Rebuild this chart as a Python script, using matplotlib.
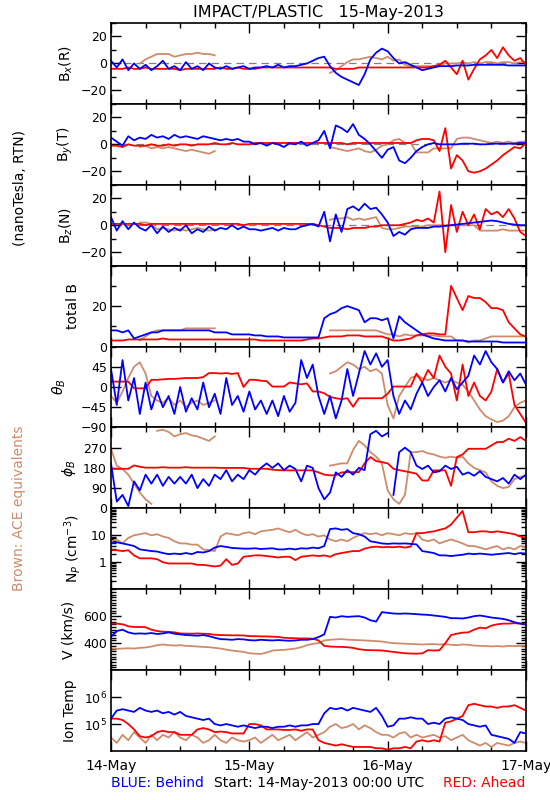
import numpy as np
import matplotlib.pyplot as plt
from matplotlib.ticker import MultipleLocator, LogLocator, NullFormatter

nan = np.nan

# hourly samples, 14-May-2013 00:00 UTC (0) to 17-May 00:00 UTC (72)
hours = np.arange(73)
day_ticks = [0, 24, 48, 72]
day_labels = ['14-May', '15-May', '16-May', '17-May']

# ---- B_x (R), nT
bx_blue = [2, -3, 3, -5, 0, -4, -1, -5, -2, 2, -4, -2,
           -5, 1, -4, -2, -5, 0, -3, -4, -2, -4, -3, -2,
           -4, -3, -3, -2, -3, -1, -3, -2, -2, -1, 0, 2,
           4, 5, -2, -7, -10, -12, -14, -16, -8, 3, 8, 11,
           9, 4, 0, 1, -1, -3, -5, -4, -3, -2, -2, -2,
           -1.5, -1.5, -1.5, -1, -1, -1, -1, -1, -1, -1.5, -1.5, -1.5,
           -1.5]
bx_red = [-4, -4, -4, -3, -4, -4, -3, -4, -4, -4, -4, -4,
          -5, -4, -4, -4, -4, -4, -4, -3, -4, -4, -3, -4,
          -4, -4, -3, -3, -3, -3, -3, -3, -3, -3, -3, -3,
          -3, -3, -3, -4, -4, -4, -4, -3, -3, -3, -3, -3,
          -3, -3, -3, -3, -3, -3, -3, -3, -2, -1, 2, -3,
          -8, 2, -12, -4, 3, 6, 10, 4, 12, 6, 2, 4,
          -1]
bx_ace = [nan, nan, nan, nan, nan, 0, 3, 5, 7, 7, 7, 5,
          6, 7, 7, 8, 7, 7, 6, nan, nan, nan, nan, nan,
          nan, nan, nan, nan, nan, nan, nan, nan, nan, nan, nan, nan,
          nan, nan, -7, -5, -2, 1, 3, 3, 4, 5, 4, 3,
          5, 2, 3, -1, -2, -2, -2, -2, -2, -1, 0, 0,
          0, 1, 0, 1, 0, 1, 1, 0, 1, 1, 0, 1,
          1]

# ---- B_y (T), nT
by_blue = [5, 2, -1, 6, 3, 5, 4, 7, 5, 6, 4, 7,
           5, 6, 5, 4, 6, 5, 4, 3, 4, 3, 4, 2,
           2, 0, 1, -1, 1, 0, -2, 1, 0, 2, -1, 1,
           3, 10, -3, 14, 12, 9, 15, 7, 4, 0, -5, -10,
           -4, -2, -12, -14, -10, -5, -2, 0, 1, 0, 0, 0,
           0, 0.5, 0.5, 0.5, 0, 0, 0.5, 0.5, 0.5, 0.5, 0.5, 1,
           1]
by_red = [-1, -1, -2, 0, -1, -1, -1, 0, -1, -1, 0, -1,
          0, 0, -1, 0, 0, 0, 1, 0, 0, 1, 0, 0,
          0, 1, 1, 1, 1, 1, 1, 1, 1, 1, 1, 1,
          1, 1, 1, 1, 1, 0, 1, 1, 1, 1, 1, 1,
          1, 1, 1, 1, 1, 3, 4, 4, 3, -5, 12, -18,
          -8, -12, -20, -21, -20, -18, -15, -12, -8, -5, -2, -3,
          1]
by_ace = [nan, nan, nan, nan, nan, -2, -1, -3, -2, -3, -2, -3,
          -4, -5, -4, -5, -6, -7, -5, nan, nan, nan, nan, nan,
          nan, nan, nan, nan, nan, nan, nan, nan, nan, nan, nan, nan,
          nan, nan, -2, -3, -4, -5, -4, -3, -5, -6, -4, -1,
          0, 3, 4, 1, 1, -6, -6, -6, -3, -3, -3, -3,
          4, 5, 5, 4, 3, 2, 1, 2, 1, 2, 1, 2,
          2]

# ---- B_z (N), nT
bz_blue = [6, -4, 3, -3, 2, -2, -4, 0, -6, -1, -5, -2,
           -4, 0, -6, -3, -5, -1, -4, -2, -3, 0, -3, -1,
           -3, -3, -4, -3, -2, -4, -2, -3, -3, -1, 0, 1,
           -1, 10, -12, 8, -5, 12, 14, 11, 16, 12, 13, 8,
           2, -8, -5, -7, -3, -2, -2, -2, -1, -1, -0.5, 0,
           0.5, 1, 1.5, 2, 2.5, 3, 3.5, 3, 2, 1, 0.5, 0,
           0]
bz_red = [1, 1, 1, 1, 1, 1, 0, 1, 1, 1, 1, 1,
          1, 1, 1, 1, 1, 1, 1, 1, 1, 1, 1, 0,
          1, 1, 1, 1, 1, 1, 1, 1, 1, 1, 1, 1,
          0, -1, -2, -2, -2, -3, -2, -2, -2, -1, -1, 0,
          0, 0, 0, 1, 2, 4, 3, 5, 2, 25, -20, 15,
          -5, 10, 0, 8, -3, 12, 8, 10, 6, 12, 5, -5,
          -8]
bz_ace = [nan, nan, nan, nan, nan, 2, 2, 1, -3, -2, -3, -4,
          -3, -4, -3, -2, -3, -4, -3, nan, nan, nan, nan, nan,
          nan, nan, nan, nan, nan, nan, nan, nan, nan, nan, nan, nan,
          nan, nan, 4, 5, 5, 6, 4, 5, 4, 5, 6, -2,
          -3, -3, -2, -1, -1, -1, -1, 0, 0, 0, 0, 0,
          0, 0, 0, 0, -4, -4, -4, -4, -3, -4, -4, -4,
          -4]

# ---- total B, nT
bt_blue = [8, 8, 7, 8, 4, 5, 6, 7, 7, 8, 8, 8,
           8, 8, 8, 8, 8, 8, 7, 7, 7, 6, 6, 6,
           6, 5.5, 5.5, 5, 5, 5, 4.5, 4.5, 4.5, 4.5, 4.5, 4.5,
           4.5, 14, 16, 17, 19, 20, 19, 18, 12, 14, 14, 13,
           14, 4, 15, 12, 10, 8, 6, 5, 4, 3.5, 3, 3,
           3, 3, 2.5, 2.5, 2.5, 2.5, 2.5, 2.5, 2, 2, 2, 2,
           2]
bt_red = [3, 3, 3, 3.5, 3.5, 3.5, 3.5, 3.5, 3.5, 4, 3.5, 3.5,
          3.5, 3.5, 3.5, 3.5, 3.5, 3.5, 3.5, 3.5, 3.5, 3.5, 3.5, 3.5,
          3.5, 3.5, 3, 3, 3, 3, 3, 3, 3, 3, 3.5, 4,
          4, 4.5, 5, 5, 5, 5.5, 5.5, 5.5, 5, 5, 5, 5,
          4, 3, 3, 3.5, 4, 5.5, 6, 6.5, 6.5, 6, 6, 30,
          24, 18, 25, 24, 24, 22, 19, 19, 18, 12, 9, 6,
          5]
bt_ace = [nan, nan, nan, nan, nan, 3, 5, 7, 8, 8, 8, 8,
          8, 9, 9, 9, 9, 9, 9, nan, nan, nan, nan, nan,
          nan, nan, nan, nan, nan, nan, nan, nan, nan, nan, nan, nan,
          nan, nan, 8, 8, 8, 8, 8, 8, 8, 8, 8, 7,
          6, 6, 5, 6, 5.5, 5.5, 5.5, 5.5, 5.5, 5, 5, 5,
          3, 3, 2, 3, 3, 4, 5, 5, 5, 5, 5, 5,
          5]

# ---- theta_B, deg
th_blue = [40, -40, 60, -30, 20, -60, 10, -50, -10, -45, -20, -60,
           0, -55, -25, -50, 10, -45, -15, -60, 20, -40, -20, -55,
           -10, -50, -30, -60, -30, -65, -20, -55, -35, 60, 20, 50,
           -20, -60, -20, -70, -30, 40, -20, 30, 80, 50, 75, 45,
           60, -20, -60, -30, -50, -15, 10, -20, 0, 15, -10, 20,
           -5, 10, 25, 70, 50, 80, 55, 40, 10, 35, 15, 30,
           5]
th_red = [12, 12, 12, 12, -3, -3, -3, 16, 16, 17, 18, 18,
          19, 20, 20, 20, 22, 31, 31, 30, 31, 29, 31, 0,
          16, 16, 14, 13, 1, 1, 1, 10, 8, 6, 8, -10,
          -10, -14, -22, -25, -27, -25, -44, -25, -25, -25, -25, -25,
          -15, 1, 1, 1, 1, 30, 10, 38, 20, 70, 45, 30,
          -30, 50, -20, 10, -20, -30, -10, 40, 10, 30, -40, -60,
          -80]
th_ace = [-20, -35, -10, 20, 45, 55, 30, -20, -30, -35, -25, -40,
          -30, -45, -35, -30, -40, -35, -30, nan, nan, nan, nan, nan,
          nan, nan, nan, nan, nan, nan, nan, nan, nan, nan, nan, nan,
          nan, nan, 30, 35, 45, 55, 50, 40, 45, 35, 40, 30,
          -40, -70, -20, 0, 20, 25, 20, 15, 20, 15, 10, 15,
          10, 5, -10, -30, -50, -65, -72, -78, -75, -65, -45, -35,
          -30]

# ---- phi_B, deg
ph_blue = [200, 30, 60, 10, 120, 80, 150, 110, 150, 100, 140, 110,
           140, 110, 150, 90, 130, 100, 150, 130, 170, 120, 150, 130,
           170, 150, 180, 200, 180, 200, 170, 190, 175, 120, 190, 180,
           90, 40, 70, 160, 140, 170, 150, 180, 170, 330, 345, 320,
           335, 60, 250, 270, 250, 190, 175, 190, 160, 165, 190, 175,
           185, 150, 160, 145, 165, 140, 130, 120, 135, 110, 150, 130,
           150]
ph_red = [176, 176, 176, 176, 191, 185, 181, 181, 181, 183, 181, 181,
          181, 183, 181, 181, 181, 181, 181, 180, 180, 180, 180, 180,
          176, 176, 176, 176, 172, 170, 169, 169, 169, 169, 169, 169,
          160, 150, 147, 147, 160, 161, 161, 161, 200, 228, 210, 206,
          200, 176, 170, 165, 160, 154, 124, 124, 169, 169, 169, 100,
          228, 240, 265, 265, 265, 265, 280, 295, 295, 310, 300, 317,
          300]
ph_ace = [265, 190, 175, 150, 110, 70, 40, 20, 345, 350, 340, 320,
          330, 335, 325, 320, 310, 300, 320, nan, nan, nan, nan, nan,
          nan, nan, nan, nan, nan, nan, nan, nan, nan, nan, nan, nan,
          nan, nan, 190, 195, 200, 200, 260, 300, 280, 250, 230, 200,
          80, 40, 20, 60, 250, 250, 255, 245, 240, 230, 225, 230,
          225, 230, 200, 180, 170, 160, 120, 100, 90, 95, 130, 140,
          145]

# ---- N_p, cm^-3
np_blue = [5, 5.5, 5, 4.5, 4, 3, 2.8, 2.6, 2.5, 2.2, 2, 2.1,
           2, 2.2, 2, 2.4, 2.3, 2.6, 3.5, 4, 3.7, 3.4, 3.3, 3.2,
           3.2, 3.3, 3.1, 3.2, 3.3, 3, 3, 3.2, 3, 3.3, 3.2, 3.5,
           3.3, 4, 17, 18, 16, 17, 12, 11, 9, 6, 5.5, 5,
           4.8, 5, 4.9, 5, 4.8, 4.6, 2.6, 2.4, 2.2, 1.8, 1.8, 1.7,
           1.8, 1.9, 2.1, 2, 2.1, 2, 1.9, 2, 2.1, 2.2, 2, 2.2,
           2.1]
np_red = [2.8, 2.8, 2.6, 2.8, 1.8, 1.4, 1.4, 1.4, 1.3, 1, 0.9, 0.9,
          0.9, 0.9, 0.9, 0.8, 0.8, 0.75, 0.7, 0.75, 1.3, 0.8, 0.9, 1.6,
          1.7, 1.8, 1.8, 1.7, 1.6, 1.5, 1.6, 1.6, 1.2, 1.6, 1.7, 1.8,
          1.7, 1.8, 1.6, 2, 2.2, 2.4, 2.6, 2.6, 3.2, 3.6, 3.8, 3.6,
          3.7, 3.6, 3.8, 3.5, 3.8, 12, 12, 13, 14, 16, 18, 25,
          45, 80, 13, 13, 14, 14, 13, 14, 13, 12, 11, 9,
          8]
np_ace = [6, 7, 5, 8, 10, 11, 12, 10, 11, 9, 8, 6,
          5, 5, 4.5, 4.5, 3, 2.8, 2.6, 9, 12, 11, 10, 12,
          13, 11, 14, 15, 16, 18, 15, 13, 16, 12, 10, 11,
          9, 10, 7, 6, 7, 6, 8, 10, 12, 11, 12, 10,
          12, 11, 10, 12, 11, 12, 7, 6, 7, 5, 6, 7,
          6, 5, 4, 4, 3.5, 3, 3.5, 4, 3, 3.5, 3, 4,
          3.5]

# ---- bulk speed, km/s
v_blue = [447, 490, 500, 480, 470, 472, 470, 475, 468, 472, 480, 470,
          465, 460, 458, 455, 460, 452, 440, 430, 428, 425, 430, 428,
          422, 420, 425, 422, 420, 423, 420, 418, 420, 425, 425, 430,
          445, 465, 595, 590, 600, 595, 598, 600, 590, 570, 560, 630,
          625, 620, 618, 620, 618, 615, 612, 610, 605, 600, 595, 585,
          585, 583, 590, 600, 605, 598, 590, 585, 580, 570, 555, 545,
          540]
v_red = [545, 545, 540, 525, 520, 520, 518, 500, 490, 485, 484, 480,
         472, 471, 470, 472, 470, 468, 462, 460, 459, 458, 458, 457,
         452, 452, 450, 450, 448, 446, 440, 438, 436, 435, 435, 433,
         420, 380, 375, 373, 372, 370, 365, 355, 350, 348, 347, 346,
         340, 335, 330, 325, 323, 322, 324, 348, 345, 348, 400, 460,
         470, 478, 480, 500, 515, 510, 530, 540, 545, 545, 548, 545,
         540]
v_ace = [360, 358, 360, 362, 360, 365, 368, 375, 385, 390, 385, 382,
         385, 380, 378, 375, 372, 370, 365, 360, 352, 345, 340, 335,
         325, 322, 320, 330, 345, 348, 350, 355, 360, 370, 385, 395,
         400, 420, 425, 428, 430, 426, 424, 422, 420, 418, 415, 412,
         405, 400, 398, 396, 394, 392, 390, 392, 393, 390, 392, 388,
         385, 390, 388, 382, 380, 378, 376, 378, 375, 380, 378, 380,
         382]

# ---- ion temperature, log10(K)
logt_blue = [5.2, 5.5, 5.55, 5.5, 5.45, 5.6, 5.5, 5.45, 5.5, 5.4, 5.45, 5.35,
             5.45, 5.3, 5.25, 5.2, 5.15, 5.2, 5.0, 4.95, 5.0, 4.95, 4.9, 4.95,
             4.9, 4.85, 4.9, 4.9, 4.85, 4.9, 4.9, 4.95, 4.9, 4.95, 4.95, 5.0,
             5.0, 5.4, 5.6, 5.55, 5.6, 5.5, 5.6, 5.55, 5.5, 5.45, 5.6, 5.3,
             4.9, 4.95, 5.2, 5.2, 5.25, 5.2, 5.2, 5.0, 5.05, 5.0, 5.2, 5.25,
             5.2, 5.15, 5.0, 4.95, 4.9, 4.95, 4.6, 4.55, 4.5, 4.45, 4.3, 4.7,
             4.65]
logt_red = [5.2, 5.2, 5.15, 5.0, 4.8, 4.55, 4.5, 4.55, 4.7, 4.75, 4.7, 4.7,
            4.6, 4.6, 4.6, 4.8, 4.85, 4.8, 4.7, 4.72, 4.7, 4.65, 4.65, 4.65,
            5.0, 5.0, 4.95, 4.8, 4.8, 4.8, 4.78, 4.78, 4.8, 4.75, 4.8, 4.8,
            4.4, 4.3, 4.25, 4.2, 4.25, 4.2, 4.15, 4.15, 4.15, 4.15, 4.1, 4.1,
            4.05, 4.1, 4.1, 4.15, 4.1, 4.35, 4.4, 4.35, 4.4, 4.35, 5.05, 5.1,
            5.2, 5.3, 5.7, 5.75, 5.7, 5.65, 5.65, 5.6, 5.65, 5.65, 5.7, 5.6,
            5.5]
logt_ace = [4.5, 4.3, 4.6, 4.4, 4.7, 4.5, 4.3, 4.6, 4.4, 4.6, 4.5, 4.7,
            4.5, 4.4, 4.6, 4.5, 4.3, 4.4, 4.6, 4.4, 4.3, 4.5, 4.4, 4.35,
            4.4, 4.5, 4.3, 4.45, 4.6, 4.4, 4.5, 4.6, 4.4, 4.55, 4.7, 4.5,
            4.6, 4.7, 4.9, 5.0, 4.85, 4.9, 5.0, 4.8, 4.95, 4.85, 4.7, 4.6,
            4.6, 4.5, 4.65, 4.7, 4.5, 4.6, 4.5, 4.55, 4.6, 4.5, 4.55, 4.4,
            4.5, 4.6, 4.4, 4.3, 4.2, 4.3, 4.15, 4.3, 4.25, 4.2, 4.3, 4.35,
            4.3]

BLUE = '#0000ff'
RED = '#ff0000'
BROWN = '#cd8c6c'

plt.rcParams['font.family'] = 'DejaVu Sans'
plt.rcParams['font.size'] = 9


def break_wraps(t, y, jump=250):
    # split the line where an angle wraps round 0/360
    y = np.asarray(y, dtype=float)
    idx = np.where(np.abs(np.diff(y)) > jump)[0] + 1
    return np.insert(t.astype(float), idx, nan), np.insert(y, idx, nan)


panels = [
    # label, blue, red, ace, ylim, log, major, labels, minor, label_x(px), zero line, wrap
    (r'B$_x$(R)', bx_blue, bx_red, bx_ace, (-30, 30), False,
     [-20, 0, 20], ['\u221220', '0', '20'], [-30, -10, 10, 30], 75, True, False),
    (r'B$_y$(T)', by_blue, by_red, by_ace, (-30, 30), False,
     [-20, 0, 20], ['\u221220', '0', '20'], [-30, -10, 10, 30], 75, True, False),
    (r'B$_z$(N)', bz_blue, bz_red, bz_ace, (-30, 30), False,
     [-20, 0, 20], ['\u221220', '0', '20'], [-30, -10, 10, 30], 75, True, False),
    ('total B', bt_blue, bt_red, bt_ace, (0, 40), False,
     [0, 20], ['0', '20'], [10, 30, 40], 80, False, False),
    (r'$\theta_B$', th_blue, th_red, th_ace, (-90, 90), False,
     [-90, -45, 0, 45], ['\u221290', '\u221245', '0', '45'], [90], 68, False, False),
    (r'$\phi_B$', ph_blue, ph_red, ph_ace, (0, 360), False,
     [0, 90, 180, 270], ['0', '90', '180', '270'], [360], 78, False, True),
    (r'N$_P$ (cm$^{-3}$)', np_blue, np_red, np_ace, (0.1, 100), True,
     [1, 10], ['1', '10'], None, 83, False, False),
    ('V (km/s)', v_blue, v_red, v_ace, (200, 800), False,
     [400, 600], ['400', '600'], list(range(200, 801, 20)), 75, False, False),
    ('Ion Temp', [10 ** v for v in logt_blue], [10 ** v for v in logt_red],
     [10 ** v for v in logt_ace], (1e4, 1e7), True,
     [1e5, 1e6], ['$10^5$', '$10^6$'], None, 77, False, False),
]

W, H = 550, 800
fig = plt.figure(figsize=(W / 100, H / 100), dpi=100)
gs = fig.add_gridspec(len(panels), 1, left=111 / W, right=526 / W,
                      top=1 - 23 / H, bottom=1 - 751 / H, hspace=0)

for i, (label, blue, red, ace, ylim, logy, major, majlab, minor, lx, zero, wrap) in enumerate(panels):
    ax = fig.add_subplot(gs[i])
    if zero:
        ax.axhline(0, color='#808080', lw=0.9, ls=(0, (6, 4)), zorder=1)
    for y, c in ((ace, BROWN), (red, RED), (blue, BLUE)):
        if wrap:
            t, yy = break_wraps(hours, y)
        else:
            t, yy = hours, y
        ax.plot(t, yy, color=c, lw=1.3, zorder=2)
    if logy:
        ax.set_yscale('log')
        ax.yaxis.set_minor_locator(LogLocator(base=10, subs=np.arange(1, 10)))
        ax.yaxis.set_minor_formatter(NullFormatter())
    ax.set_ylim(*ylim)
    ax.set_yticks(major, majlab)
    if minor is not None:
        ax.set_yticks(minor, minor=True)
        ax.yaxis.set_minor_formatter(NullFormatter())
    ax.set_xlim(0, 72)
    ax.set_xticks(day_ticks)
    ax.xaxis.set_minor_locator(MultipleLocator(6))
    if i == len(panels) - 1:
        ax.set_xticklabels(day_labels, fontsize=10)
    else:
        ax.set_xticklabels([])
    ax.tick_params(which='both', direction='in', top=True, right=True, width=1)
    ax.tick_params(which='major', length=7, pad=3)
    ax.tick_params(which='minor', length=3.5)
    ax.tick_params(axis='x', which='major', pad=6)
    for s in ax.spines.values():
        s.set_linewidth(1.2)
    ax.set_ylabel(label, fontsize=10)
    ax.yaxis.set_label_coords((lx - 111) / 415, 0.5)

fig.text(318 / W, 1 - 12 / H, 'IMPACT/PLASTIC   15-May-2013', ha='center', va='center', fontsize=11.5)
fig.text(20 / W, 1 - 188 / H, '(nanoTesla, RTN)', rotation=90, ha='center', va='center', fontsize=10)
fig.text(19 / W, 1 - 508 / H, 'Brown: ACE equivalents', rotation=90, ha='center', va='center',
         fontsize=10, color=BROWN)
fig.text(111 / W, 1 - 783 / H, 'BLUE: Behind', ha='left', va='center', fontsize=10, color=BLUE)
fig.text(319 / W, 1 - 783 / H, 'Start: 14-May-2013 00:00 UTC', ha='center', va='center', fontsize=10)
fig.text(525 / W, 1 - 783 / H, 'RED: Ahead', ha='right', va='center', fontsize=10, color=RED)

fig.savefig('out.png', dpi=100)
